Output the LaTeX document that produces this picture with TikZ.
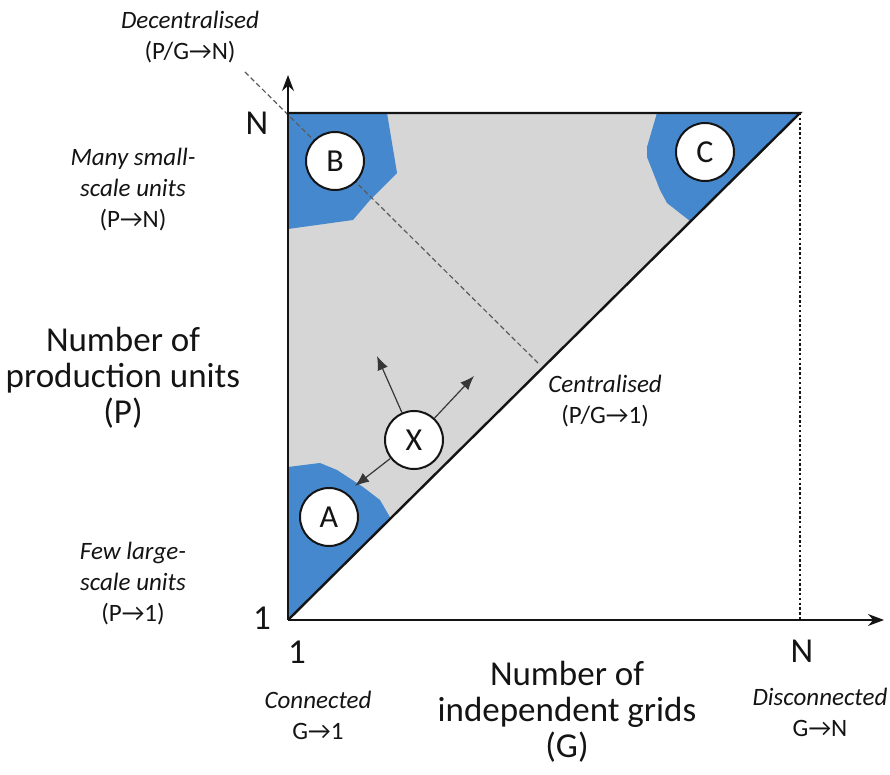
\documentclass[tikz,border=0pt]{standalone}
\usepackage{fontspec}
\setmainfont{Carlito}
\usepackage{tikz}
\usetikzlibrary{arrows.meta,calc,positioning}
\definecolor{ink}{RGB}{20,20,20}
\definecolor{muted}{RGB}{90,90,90}
\definecolor{zonefill}{RGB}{214,214,214}
\definecolor{zoneblue}{RGB}{70,136,206}
\newcommand{\ra}{→}
\tikzset{
    line cap=round,
    line join=round,
    biglabel/.style={
        font=\fontsize{17.5}{18}\selectfont,
        text=ink,
        align=center,
        inner sep=0pt
    },
    sidelabel/.style={
        font=\fontsize{12.5}{15.5}\selectfont\itshape,
        text=ink,
        align=center,
        inner sep=0pt
    },
    ticklabel/.style={
        font=\fontsize{17.5}{18}\selectfont,
        text=ink,
        inner sep=0pt
    },
    zone/.style={
        circle,
        draw=ink,
        line width=1pt,
        fill=white,
        minimum size=29pt,
        inner sep=0pt,
        font=\fontsize{16}{16}\selectfont,
        text=ink
    },
    axis/.style={
        -{Stealth[length=8pt,width=6pt]},
        draw=ink,
        line width=0.8pt
    },
    frame/.style={
        draw=ink,
        line width=1.2pt
    },
    guide/.style={
        draw=muted,
        dash pattern=on 2.5pt off 1.5pt,
        line width=0.6pt
    },
    limit/.style={
        draw=ink,
        dash pattern=on 1.2pt off 1.2pt,
        line width=0.7pt
    },
    move/.style={
        -{Latex[length=7pt,width=5.5pt]},
        draw=ink!85,
        line width=0.6pt
    }
}

\begin{document}
\begin{tikzpicture}[x=0.5pt, y=-0.5pt]

\useasboundingbox (0,0) rectangle (890,775);

\coordinate (o) at (288,620);
\coordinate (top) at (288,113);
\coordinate (far) at (800,113);
\coordinate (ytip) at (288,75);
\coordinate (xtip) at (884,620);
\coordinate (xfar) at (800,620);
\coordinate (dec) at (245,72);
\coordinate (cen) at (540,365);

% feasible region and the three corners
\fill[zonefill] (top) -- (far) -- (o) -- cycle;
\fill[zoneblue] (top) -- (387,113) -- (397,173) -- (370,200) -- (353,220) -- (288,229) -- cycle;
\fill[zoneblue] (o) -- (288,467) -- (320,463) -- (337,470) -- (363,487) -- (380,500) -- (391,519) -- cycle;
\fill[zoneblue] (far) -- (657,113) -- (647,147) -- (647,157) -- (660,190) -- (667,203) -- (690,221) -- cycle;

\draw[guide] (dec) -- (cen);
\draw[limit] (far) -- (xfar);

\draw[frame] (top) -- (far) -- (o);
\draw[axis] (o) -- (ytip);
\draw[axis] (o) -- (xtip);

\node[zone] (B) at (335,161) {B};
\node[zone] (C) at (705,152) {C};
\node[zone] (A) at (329,517) {A};
\node[zone] (X) at (414,440) {X};

\coordinate (toB) at (377,356);
\coordinate (toC) at (474,376);
\coordinate (toA) at (355,486);
\draw[move] (X) -- (toB);
\draw[move] (X) -- (toC);
\draw[move] (X) -- (toA);

% axis ticks
\node[ticklabel] (pn) at (257,123) {N};
\node[ticklabel] (p1) at (262,618) {1};
\node[ticklabel] (g1) at (297,652) {1};
\node[ticklabel] (gn) at (802,651) {N};

% labels
\node[sidelabel] (decent) at (190,37) {Decentralised\\{\upshape (P/G\ra N)}};
\node[sidelabel, anchor=west] (centr) at (548,401) {Centralised\\{\upshape (P/G\ra 1)}};
\node[sidelabel] (many) at (133,190) {Many small-\\scale units\\{\upshape (P\ra N)}};
\node[sidelabel] (few) at (133,584) {Few large-\\scale units\\{\upshape (P\ra 1)}};
\node[sidelabel] (conn) at (318,715) {Connected\\{\upshape G\ra 1}};
\node[sidelabel] (disc) at (820,712) {Disconnected\\{\upshape G\ra N}};
\node[biglabel] (nump) at (123,378) {Number of\\production units\\(P)};
\node[biglabel] (numg) at (567,712) {Number of\\independent grids\\(G)};

\end{tikzpicture}
\end{document}
